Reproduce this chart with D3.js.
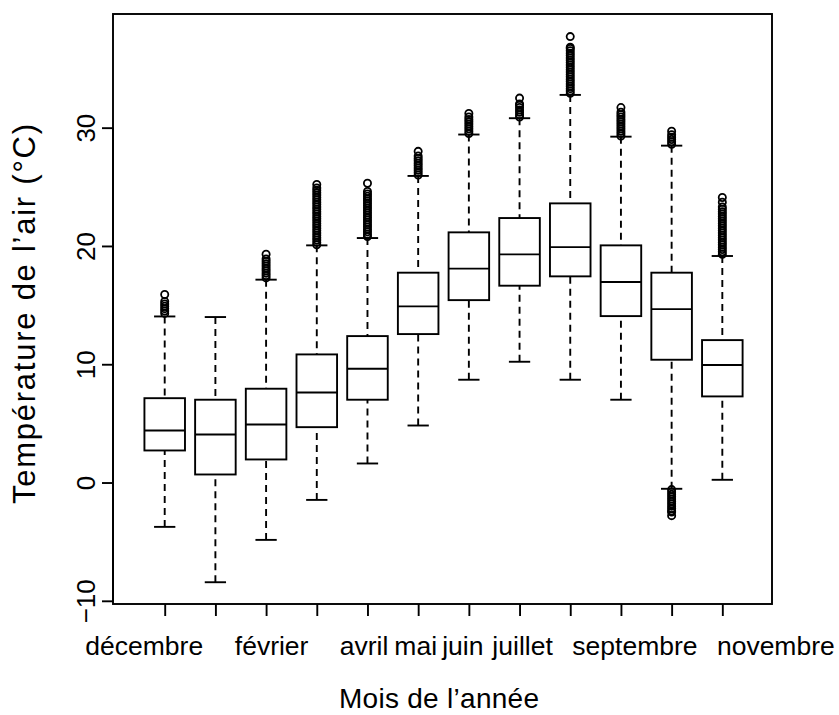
<!DOCTYPE html>
<html><head><meta charset="utf-8">
<script src="https://cdn.jsdelivr.net/npm/d3@7"></script>
<style>body{margin:0;background:#fff}</style>
</head><body>
<svg id="chart" width="839" height="715"></svg>
<script>
// ---- data ----
const months = ["décembre","janvier","février","mars","avril","mai","juin","juillet","août","septembre","octobre","novembre"];
const shownLabels = ["décembre","","février","","avril","mai","juin","juillet","","septembre","","novembre"];
const whiskerLow  = [-3.75, -8.43, -4.85, -1.47, 1.61, 4.82, 8.69, 10.21, 8.69, 7.0, -0.53, 0.23];
const q1          = [2.71, 0.68, 1.95, 4.68, 7.0, 12.55, 15.42, 16.64, 17.43, 14.07, 10.38, 7.28];
const median      = [4.40, 4.06, 4.9, 7.61, 9.62, 14.89, 18.08, 19.29, 19.9, 16.95, 14.66, 9.93];
const q3          = [7.13, 7.0, 7.93, 10.83, 12.38, 17.74, 21.15, 22.36, 23.6, 20.05, 17.74, 12.04];
const whiskerHigh = [14.04, 13.99, 17.15, 20.05, 20.67, 25.92, 29.42, 30.8, 32.77, 29.24, 28.48, 19.15];
const outliers = [
  [14.3, 14.5, 14.7, 14.9, 15.1, 15.3, 15.9],
  [],
  [17.3, 17.5, 17.7, 17.9, 18.1, 18.3, 18.5, 18.7, 18.9, 19.3],
  [20.1, 20.3, 20.5, 20.7, 20.9, 21.1, 21.3, 21.5, 21.7, 21.9, 22.1, 22.3, 22.5, 22.7, 22.9, 23.1, 23.3, 23.5, 23.7, 23.9, 24.1, 24.3, 24.5, 24.7, 24.9, 25.2],
  [20.8, 21.0, 21.2, 21.4, 21.6, 21.8, 22.0, 22.2, 22.4, 22.6, 22.8, 23.0, 23.2, 23.4, 23.6, 23.8, 24.0, 24.2, 24.4, 24.6, 25.3],
  [26.0, 26.2, 26.4, 26.6, 26.8, 27.0, 27.2, 27.4, 27.6, 28.0],
  [29.5, 29.7, 29.9, 30.1, 30.3, 30.5, 30.7, 30.9, 31.2],
  [30.9, 31.1, 31.3, 31.5, 31.7, 31.9, 32.0, 32.5],
  [32.9, 33.1, 33.3, 33.5, 33.7, 33.9, 34.1, 34.3, 34.5, 34.7, 34.9, 35.1, 35.3, 35.5, 35.7, 35.9, 36.1, 36.3, 36.5, 36.7, 36.8, 37.7],
  [29.3, 29.5, 29.7, 29.9, 30.1, 30.3, 30.5, 30.7, 30.9, 31.1, 31.3, 31.7],
  [28.6, 28.8, 29.0, 29.2, 29.4, 29.7, -0.6, -0.8, -1.0, -1.2, -1.4, -1.6, -1.8, -2.0, -2.2, -2.4, -2.5, -2.8],
  [19.3, 19.5, 19.7, 19.9, 20.1, 20.3, 20.5, 20.7, 20.9, 21.1, 21.3, 21.5, 21.7, 21.9, 22.1, 22.3, 22.5, 22.7, 22.9, 23.1, 23.3, 23.7, 24.1]
];
const yTicks = [-10, 0, 10, 20, 30];
const xTitle = "Mois de l’année";
const yTitle = "Température de l’air (°C)";

// ---- layout / style (not data) ----
const plot = {left: 113, top: 14, right: 772, bottom: 604};
const labelNudge = {"décembre": -21, "février": 5, "avril": -4, "mai": -3, "juin": -6.5, "juillet": 2.5, "septembre": 13.5, "novembre": 53};
const font = "'Liberation Sans', Arial, sans-serif";
const lw = 1.9;

const svg = d3.select("#chart");
const x = d3.scaleLinear().domain([-0.02, 12.98]).range([plot.left, plot.right]);
const y = d3.scaleLinear().domain([-10.27, 39.61]).range([plot.bottom, plot.top]);
const boxW = x(0.8) - x(0);
const capW = x(0.42) - x(0);

const data = months.map((m, i) => ({m, i: i + 1, lo: whiskerLow[i], q1: q1[i], med: median[i], q3: q3[i], hi: whiskerHigh[i], out: outliers[i]}));

const g = svg.append("g");
const box = g.selectAll("g.box").data(data).join("g").attr("class", "box");

// whiskers (dashed), drawn from whisker end toward the box
box.append("line")
  .attr("x1", d => x(d.i)).attr("x2", d => x(d.i))
  .attr("y1", d => y(d.lo)).attr("y2", d => y(d.q1))
  .attr("stroke", "#000").attr("stroke-width", lw).attr("stroke-dasharray", "7,5");
box.append("line")
  .attr("x1", d => x(d.i)).attr("x2", d => x(d.i))
  .attr("y1", d => y(d.hi)).attr("y2", d => y(d.q3))
  .attr("stroke", "#000").attr("stroke-width", lw).attr("stroke-dasharray", "7,5");
// staples
["lo", "hi"].forEach(k => {
  box.append("line")
    .attr("x1", d => x(d.i) - capW / 2).attr("x2", d => x(d.i) + capW / 2)
    .attr("y1", d => y(d[k])).attr("y2", d => y(d[k]))
    .attr("stroke", "#000").attr("stroke-width", lw);
});
// boxes
box.append("rect")
  .attr("x", d => x(d.i) - boxW / 2).attr("width", boxW)
  .attr("y", d => y(d.q3)).attr("height", d => y(d.q1) - y(d.q3))
  .attr("fill", "#fff").attr("stroke", "#000").attr("stroke-width", lw);
// medians
box.append("line")
  .attr("x1", d => x(d.i) - boxW / 2).attr("x2", d => x(d.i) + boxW / 2)
  .attr("y1", d => y(d.med)).attr("y2", d => y(d.med))
  .attr("stroke", "#000").attr("stroke-width", lw);
// outliers
box.selectAll("circle").data(d => d.out.map(v => ({i: d.i, v}))).join("circle")
  .attr("cx", d => x(d.i)).attr("cy", d => y(d.v)).attr("r", 3.6)
  .attr("fill", "none").attr("stroke", "#000").attr("stroke-width", 1.8);

// frame
svg.append("rect")
  .attr("x", plot.left).attr("y", plot.top)
  .attr("width", plot.right - plot.left).attr("height", plot.bottom - plot.top)
  .attr("fill", "none").attr("stroke", "#000").attr("stroke-width", lw);

// y axis
const yAxis = svg.append("g").attr("transform", `translate(${plot.left},0)`)
  .call(d3.axisLeft(y).tickValues(yTicks).tickSize(11).tickSizeOuter(0).tickFormat(d3.format("d")));
yAxis.select(".domain").remove();
yAxis.selectAll(".tick line").attr("stroke", "#000").attr("stroke-width", lw);
yAxis.selectAll(".tick text")
  .attr("font-family", font).attr("font-size", 26).attr("fill", "#000")
  .attr("x", null).attr("dy", null)
  .attr("text-anchor", "middle")
  .attr("transform", "translate(-18,0) rotate(-90)");
svg.append("line").attr("x1", plot.left).attr("x2", plot.left)
  .attr("y1", y(yTicks[0])).attr("y2", y(yTicks[yTicks.length - 1]))
  .attr("stroke", "#000").attr("stroke-width", lw);

// x axis
const xAxis = svg.append("g").attr("transform", `translate(0,${plot.bottom})`)
  .call(d3.axisBottom(x).tickValues(d3.range(1, months.length + 1)).tickSize(12).tickSizeOuter(0)
    .tickFormat(d => shownLabels[d - 1]));
xAxis.select(".domain").remove();
xAxis.selectAll(".tick line").attr("stroke", "#000").attr("stroke-width", lw);
xAxis.selectAll(".tick text")
  .attr("font-family", font).attr("font-size", 26.5).attr("fill", "#000")
  .attr("y", 51).attr("dy", null)
  .attr("dx", d => labelNudge[shownLabels[d - 1]] || 0);

// titles
svg.append("text")
  .attr("x", 439).attr("y", 708)
  .attr("text-anchor", "middle").attr("font-family", font).attr("font-size", 28)
  .attr("textLength", 200).attr("lengthAdjust", "spacing")
  .text(xTitle);
svg.append("text")
  .attr("transform", `translate(35,314) rotate(-90)`)
  .attr("text-anchor", "middle").attr("font-family", font).attr("font-size", 31)
  .attr("textLength", 380).attr("lengthAdjust", "spacing")
  .text(yTitle);
</script>
</body></html>
